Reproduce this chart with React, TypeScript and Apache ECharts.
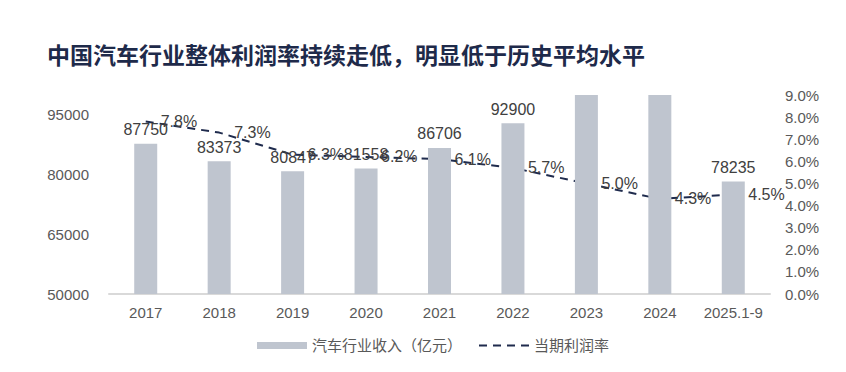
import React, { useEffect, useRef } from "react";
import * as echarts from "echarts";

const titleText = "中国汽车行业整体利润率持续走低，明显低于历史平均水平";
const categories = ["2017", "2018", "2019", "2020", "2021", "2022", "2023", "2024", "2025.1-9"];
const revenue = [87750, 83373, 80847, 81558, 86706, 92900, 100976, 106732, 78235];
const profitMargin = [7.8, 7.3, 6.3, 6.2, 6.1, 5.7, 5.0, 4.3, 4.5];
const leftAxisMin = 50000;
const leftAxisMax = 100000;
const leftAxisInterval = 15000;
const seriesNames = ["汽车行业收入（亿元）", "当期利润率"];

const FONT = "'Liberation Sans', Arial, 'Noto Sans CJK SC', sans-serif";

export default function App() {
  const ref = useRef<HTMLDivElement>(null);
  useEffect(() => {
    if (!ref.current) return;
    const chart = echarts.init(ref.current, undefined, { renderer: "svg" });
    chart.setOption({
      animation: false,
      backgroundColor: "#ffffff",
      textStyle: { fontFamily: FONT },
      title: {
        text: titleText,
        left: 42,
        top: 37,
        textStyle: {
          fontSize: 23,
          fontWeight: "bold",
          color: "#1e2a4a",
          fontFamily: "'Noto Sans CJK SC', sans-serif",
        },
      },
      grid: { left: 109, right: 76, top: 95, bottom: 78 },
      legend: {
        left: 252,
        top: 333,
        itemWidth: 50,
        itemHeight: 7,
        itemGap: 16,
        textStyle: { fontSize: 15, color: "#595959", fontFamily: FONT },
        data: [
          { name: seriesNames[0], icon: "rect" },
          { name: seriesNames[1], itemStyle: { opacity: 0 } },
        ],
      },
      xAxis: {
        type: "category",
        data: categories,
        axisLine: { lineStyle: { color: "#d9d9d9", width: 2 } },
        axisTick: { show: false },
        axisLabel: { fontSize: 15, color: "#595959", margin: 11, interval: 0 },
      },
      yAxis: [
        {
          type: "value",
          min: leftAxisMin,
          max: leftAxisMax,
          interval: leftAxisInterval,
          splitLine: { show: false },
          axisLine: { show: false },
          axisTick: { show: false },
          axisLabel: {
            fontSize: 15,
            color: "#595959",
            margin: 20,
            showMaxLabel: false,
            formatter: (v: number) => String(v),
          },
        },
        {
          type: "value",
          min: 0,
          max: 9,
          interval: 1,
          splitLine: { show: false },
          axisLine: { show: false },
          axisTick: { show: false },
          axisLabel: {
            fontSize: 15,
            color: "#595959",
            margin: 15,
            formatter: (v: number) => v.toFixed(1) + "%",
          },
        },
      ],
      series: [
        {
          name: seriesNames[0],
          type: "bar",
          z: 3,
          barWidth: 23,
          itemStyle: { color: "#bfc5cf" },
          data: revenue.map((v) => ({ value: v, label: { show: v <= leftAxisMax } })),
          label: {
            show: true,
            position: "top",
            distance: 6,
            fontSize: 16,
            color: "#404040",
          },
        },
        {
          name: seriesNames[1],
          type: "line",
          yAxisIndex: 1,
          z: 2,
          symbol: "circle",
          symbolSize: 0,
          showSymbol: true,
          data: profitMargin,
          itemStyle: { color: "#1f2b4d" },
          lineStyle: { color: "#1f2b4d", width: 2, type: [8, 6] },
          label: {
            show: true,
            position: "right",
            distance: 15,
            fontSize: 16,
            color: "#404040",
            formatter: (p: any) => Number(p.value).toFixed(1) + "%",
          },
        },
      ],
    });
    return () => chart.dispose();
  }, []);
  return (
    <div
      ref={ref}
      style={{ position: "fixed", left: 0, top: 0, width: 846, height: 372 }}
    />
  );
}
